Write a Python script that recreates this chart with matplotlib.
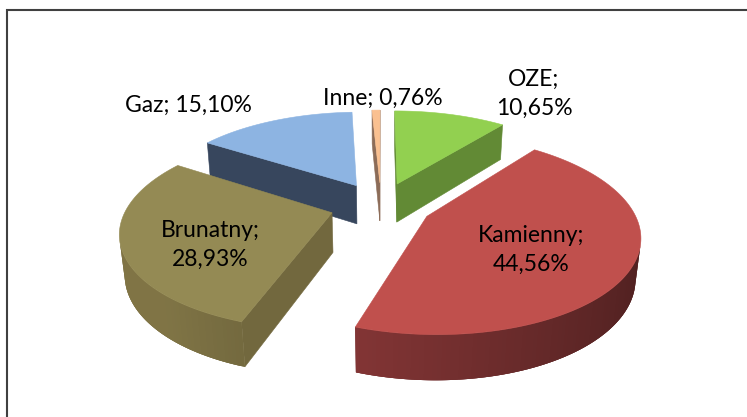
import numpy as np
import matplotlib
matplotlib.use('Agg')
import matplotlib.pyplot as plt
from matplotlib.patches import Polygon
from matplotlib.colors import to_rgb

# data
labels = ['OZE', 'Kamienny', 'Brunatny', 'Gaz', 'Inne']
values = [10.65, 44.56, 28.93, 15.10, 0.76]
top_colors = ['#92D050', '#C0504D', '#948A54', '#8DB4E2', '#FAC090']
side_colors = ['#628A35', '#803434', '#72683E', '#37465D', '#8C6C58']
value_text = ['10,65%', '44,56%', '28,93%', '15,10%', '0,76%']

# layout of the labels (pixel coords)
label_xy = [(534, 94), (531, 250), (210, 245), (188, 105), (383, 98)]
label_sep = ['\n', '\n', '\n', ' ', ' ']

# view parameters of the 3d pie
CX, CY = 381, 205
ELEV = np.radians(27)
DIST = 5.02
FOC = 1026
HEIGHT = 0.22
EXPLODE = 0.25

c_e, s_e = np.cos(ELEV), np.sin(ELEV)
camera = np.array([0.0, -DIST * c_e, DIST * s_e])


def project(x, y, z):
    depth = DIST + y * c_e - z * s_e
    sx = CX + FOC * x / depth
    sy = CY - FOC * (y * s_e + z * c_e) / depth
    return sx, sy


def visible(normal, pt):
    return np.dot(normal, camera - np.asarray(pt)) > 0


def shade(col, f):
    return tuple(np.clip(np.array(to_rgb(col)) * f, 0, 1))


def draw_poly(ax, pts3d, color, lw=0.4):
    pts = [project(*p) for p in pts3d]
    ax.add_patch(Polygon(pts, closed=True, facecolor=color,
                         edgecolor=color if lw else 'none', linewidth=lw))


def wall_factor(t):
    return min(0.92 + 0.3 * (-np.sin(t)), 1.12)


def draw_slice(ax, a0, a1, top_col, side_col):
    mid = np.radians((a0 + a1) / 2)
    ox, oy = EXPLODE * np.sin(mid), EXPLODE * np.cos(mid)
    th = np.radians(np.linspace(a0, a1, max(int(a1 - a0), 2) + 1))
    rim = [(ox + np.sin(t), oy + np.cos(t)) for t in th]

    t0, t1 = np.radians(a0), np.radians(a1)
    # radial walls
    n0 = np.array([-np.cos(t0), np.sin(t0), 0])
    if visible(n0, (rim[0][0], rim[0][1], 0)):
        draw_poly(ax, [(ox, oy, 0), (*rim[0], 0), (*rim[0], -HEIGHT),
                       (ox, oy, -HEIGHT)], side_col)
    n1 = np.array([np.cos(t1), -np.sin(t1), 0])
    if visible(n1, (rim[-1][0], rim[-1][1], 0)):
        draw_poly(ax, [(ox, oy, 0), (*rim[-1], 0), (*rim[-1], -HEIGHT),
                       (ox, oy, -HEIGHT)], side_col)

    # outer wall: front facing part, soft gradient along the angle
    seg = []
    for j in range(len(th) - 1):
        tm = (th[j] + th[j + 1]) / 2
        n = np.array([np.sin(tm), np.cos(tm), 0])
        if visible(n, (ox + np.sin(tm), oy + np.cos(tm), 0)):
            seg.append(j)
    if seg:
        # underlay so that no white seams show between the strips
        jj = list(range(seg[0], seg[-1] + 2))
        tm = (th[jj[0]] + th[jj[-1]]) / 2
        band = [(*rim[j], 0) for j in jj] + \
               [(*rim[j], -HEIGHT) for j in jj[::-1]]
        draw_poly(ax, band, shade(side_col, wall_factor(tm)), lw=0)
        for j in seg:
            k = min(j + 2, len(th) - 1)
            tm = (th[j] + th[j + 1]) / 2
            draw_poly(ax, [(*rim[j], 0), (*rim[k], 0),
                           (*rim[k], -HEIGHT), (*rim[j], -HEIGHT)],
                      shade(side_col, wall_factor(tm)), lw=0)

    draw_poly(ax, [(ox, oy, 0)] + [(x, y, 0) for x, y in rim], top_col)


fig = plt.figure(figsize=(7.47, 4.17), dpi=100)
ax = fig.add_axes([0, 0, 1, 1])
ax.set_xlim(0, 747)
ax.set_ylim(417, 0)
ax.axis('off')

# chart frame
ax.plot([7, 7, 747], [417, 10, 10], color='#404040', lw=1.5,
        solid_joinstyle='miter')

total = sum(values)
starts = np.concatenate([[0], np.cumsum(values)[:-1]]) / total * 360
ends = np.cumsum(values) / total * 360
mids = np.radians((starts + ends) / 2)

# back slices first
order = np.argsort(-np.cos(mids))
for i in order:
    draw_slice(ax, starts[i], ends[i], top_colors[i], side_colors[i])

for i in range(len(labels)):
    ax.text(*label_xy[i], labels[i] + ';' + label_sep[i] + value_text[i],
            ha='center', va='center', fontsize=16.5, family='Lato',
            linespacing=1.5, color='black')

fig.savefig('out.png', dpi=100)
